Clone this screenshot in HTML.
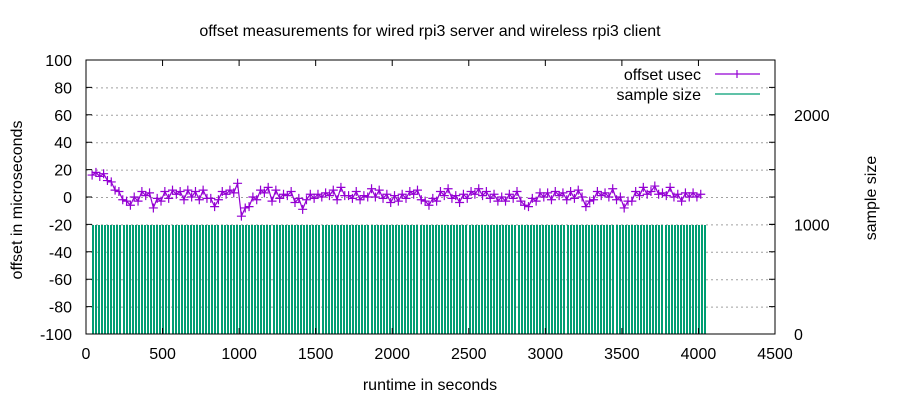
<!DOCTYPE html>
<html><head><meta charset="utf-8"><style>
html,body{margin:0;padding:0;background:#fff;}
svg{display:block;font-family:"Liberation Sans",sans-serif;}
</style></head><body>
<svg id="chart" width="900" height="400" xmlns="http://www.w3.org/2000/svg"></svg>
<script>
const xTicks = [0,500,1000,1500,2000,2500,3000,3500,4000,4500];
const yTicks = [-100,-80,-60,-40,-20,0,20,40,60,80,100];
const y2Ticks = [0,1000,2000];
const offsetStart = 40, offsetStep = 25;
const offsetValues = [
16,18,15,17,12,11,5,4,-2,-3,-6,
0,-3,4,1,3,-8,-1,-3,4,-1,5,2,4,-2,5,0,
4,-2,5,-1,-1,-7,-2,4,2,5,3,10,
-14,-8,-7,0,-2,5,3,7,-3,5,
-1,2,1,4,-4,-1,-9,-2,2,-1,
2,0,3,1,5,-2,7,1,1,-1,4,-2,1,0,6,0,5,-1,2,-4,
1,-3,2,-1,4,2,5,-2,-3,-6,-1,-3,4,1,6,-1,1,-4,2,-1,
4,2,6,1,4,-1,2,-3,0,-3,2,-1,4,-3,-6,-7,-1,-3,3,0,
3,-2,4,1,3,-2,4,-1,5,0,-7,-3,-2,4,1,3,0,6,-2,0,
-8,-3,-3,4,1,7,2,4,8,2,3,1,7,0,2,-3,3,0,3,0,2
];
const sampleStart = 45, sampleStep = 20;
const sampleSizes = [
990,990,990,990,990,990,990,990,990,990,990,990,990,990,990,990,990,990,990,990,
990,990,990,990,990,990,990,990,990,990,990,990,990,990,990,990,990,990,990,990,
990,990,990,990,990,990,990,990,990,990,990,990,990,990,990,990,990,990,990,990,
990,990,990,990,990,990,990,990,990,990,990,990,990,990,990,990,990,990,990,990,
990,990,990,990,990,990,990,990,990,990,990,990,990,990,990,990,990,990,990,990,
990,990,990,990,990,990,990,990,990,990,990,990,990,990,990,990,990,990,990,990,
990,990,990,990,990,990,990,990,990,990,990,990,990,990,990,990,990,990,990,990,
990,990,990,990,990,990,990,990,990,990,990,990,990,990,990,990,990,990,990,990,
990,990,990,990,990,990,990,990,990,990,990,990,990,990,990,990,990,990,990,990,
990,990,990,990,990,990,990,990,990,990,990,990,990,990,990,990,990,990,990,990,
990
];

const L=86,R=775,T=60,B=334;
const X=v=>L+(v/4500)*(R-L);
const Y=v=>B-((v+100)/200)*(B-T);
const Y2=v=>B-(v/2500)*(B-T);
const svg=document.getElementById('chart');
const NS='http://www.w3.org/2000/svg';
function mk(tag,attrs,parent){const e=document.createElementNS(NS,tag);for(const k in attrs)e.setAttribute(k,attrs[k]);(parent||svg).appendChild(e);return e;}
function txt(s,attrs){const e=mk('text',attrs);e.textContent=s;return e;}

yTicks.forEach(v=>{if(v===-100||v===100)return;
 const g=mk('line',{x1:L,x2:R,y1:Y(v)+0.5,y2:Y(v)+0.5,stroke:'#a0a0a0','stroke-dasharray':'2,3','stroke-width':1});
 
 });

const bars=mk('g',{'shape-rendering':'crispEdges'});


sampleSizes.forEach((v,i)=>{const t=sampleStart+i*sampleStep;
 const r=mk('rect',{x:Math.round(X(t)-1),y:Math.round(Y2(v)),width:2,height:B-Math.round(Y2(v)),fill:'#009e73'},bars);
 
 });

const pts=offsetValues.map((v,i)=>[X(offsetStart+i*offsetStep),Y(v)]);
const ln=mk('polyline',{points:pts.map(p=>p.join(',')).join(' '),fill:'none',stroke:'#9400d3','stroke-width':1.2});


pts.forEach(p=>{const m=mk('path',{d:`M${p[0]-4.5},${p[1]}h9M${p[0]},${p[1]-4.5}v9`,stroke:'#9400d3','stroke-width':1.2});
 
 });

const bd=mk('rect',{x:L,y:T,width:R-L,height:B-T,fill:'none',stroke:'#000','stroke-width':1});



xTicks.forEach(v=>{const x=X(v);
 mk('path',{d:`M${x},${B}v-6M${x},${T}v6`,stroke:'#000'});
 const t=txt(v,{x:x,y:B+25,'text-anchor':'middle','font-size':16});
 
 });
yTicks.forEach(v=>{const y=Y(v);
 mk('path',{d:`M${L},${y}h6M${R},${y}h-6`,stroke:'#000'});
 const t=txt(v,{x:L-14,y:y+6,'text-anchor':'end','font-size':16});
 
 });
y2Ticks.forEach(v=>{const y=Y2(v);
 mk('path',{d:`M${R},${y}h-6`,stroke:'#000'});
 const t=txt(v,{x:R+19,y:y+6,'text-anchor':'start','font-size':16});
 
 });

let e=txt('offset measurements for wired rpi3 server and wireless rpi3 client',{x:430,y:36,'text-anchor':'middle','font-size':16});


e=txt('runtime in seconds',{x:430,y:390,'text-anchor':'middle','font-size':16});


e=txt('offset in microseconds',{x:0,y:0,'text-anchor':'middle','font-size':16,transform:'translate(22,200) rotate(-90)'});


e=txt('sample size',{x:0,y:0,'text-anchor':'middle','font-size':16,transform:'translate(876,198) rotate(-90)'});



e=txt('offset usec',{x:701,y:80,'text-anchor':'end','font-size':16});


e=mk('path',{d:'M715,74h45M737,70v8',stroke:'#9400d3','stroke-width':1.2});


e=txt('sample size',{x:701,y:100,'text-anchor':'end','font-size':16});


e=mk('path',{d:'M715,94h45',stroke:'#009e73','stroke-width':1.2});


</script>
</body></html>
